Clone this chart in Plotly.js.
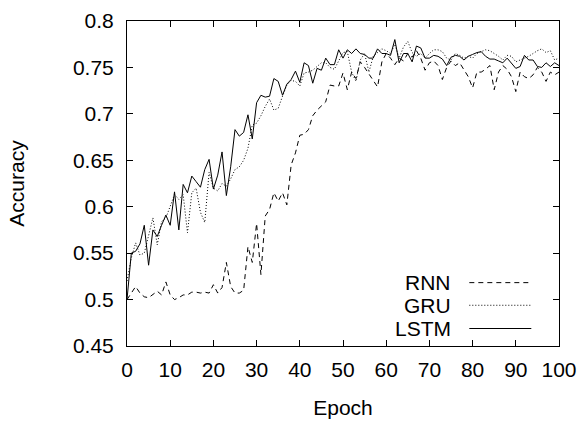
<!DOCTYPE html>
<html>
<head>
<meta charset="utf-8">
<script src="https://cdn.plot.ly/plotly-3.0.1.min.js"></script>
<style>html,body{margin:0;padding:0;background:#fff;}#chart{width:587px;height:422px;}</style>
</head>
<body>
<div id="chart"></div>
<script>
const epochs = Array.from({length: 101}, (_, i) => i);

const rnn = [0.500,0.507,0.514,0.507,0.503,0.502,0.506,0.509,0.505,0.519,
0.505,0.500,0.502,0.505,0.505,0.508,0.508,0.507,0.508,0.507,
0.516,0.507,0.513,0.540,0.514,0.507,0.507,0.510,0.557,0.540,
0.582,0.527,0.590,0.597,0.615,0.606,0.615,0.602,0.645,0.658,
0.677,0.678,0.683,0.698,0.704,0.708,0.713,0.731,0.730,0.730,
0.744,0.726,0.745,0.738,0.756,0.750,0.743,0.735,0.729,0.756,
0.765,0.760,0.753,0.760,0.757,0.765,0.761,0.768,0.760,0.747,
0.755,0.757,0.752,0.737,0.750,0.757,0.752,0.755,0.748,0.740,
0.728,0.745,0.745,0.748,0.752,0.726,0.745,0.752,0.748,0.740,
0.724,0.745,0.740,0.738,0.742,0.750,0.745,0.735,0.745,0.742,0.745];

const gru = [0.520,0.545,0.561,0.548,0.550,0.570,0.588,0.559,0.584,0.588,
0.600,0.613,0.608,0.613,0.572,0.615,0.620,0.594,0.583,0.637,
0.620,0.617,0.625,0.622,0.630,0.640,0.643,0.650,0.663,0.688,
0.690,0.698,0.708,0.716,0.704,0.706,0.719,0.731,0.736,0.735,
0.730,0.744,0.745,0.747,0.751,0.755,0.755,0.750,0.748,0.757,
0.766,0.767,0.745,0.735,0.758,0.765,0.745,0.762,0.766,0.770,
0.768,0.765,0.775,0.760,0.772,0.778,0.766,0.762,0.765,0.760,
0.765,0.769,0.769,0.767,0.760,0.758,0.765,0.763,0.760,0.762,
0.760,0.765,0.767,0.769,0.768,0.765,0.762,0.758,0.763,0.762,
0.756,0.758,0.760,0.762,0.765,0.768,0.770,0.766,0.768,0.758,0.760];

const lstm = [0.500,0.550,0.552,0.560,0.580,0.537,0.575,0.568,0.580,0.591,
0.580,0.616,0.575,0.624,0.615,0.633,0.627,0.621,0.640,0.651,
0.619,0.634,0.659,0.612,0.643,0.683,0.676,0.680,0.699,0.673,
0.712,0.720,0.718,0.719,0.738,0.735,0.720,0.732,0.737,0.746,
0.734,0.755,0.752,0.733,0.749,0.747,0.760,0.753,0.753,0.769,
0.760,0.769,0.765,0.770,0.765,0.764,0.760,0.760,0.770,0.765,
0.765,0.763,0.780,0.755,0.765,0.765,0.756,0.773,0.771,0.760,
0.760,0.763,0.762,0.759,0.752,0.761,0.763,0.762,0.758,0.762,
0.764,0.766,0.767,0.762,0.759,0.759,0.757,0.755,0.760,0.755,
0.749,0.751,0.763,0.758,0.758,0.751,0.750,0.755,0.751,0.755,0.752];

const seriesNames = ['RNN', 'GRU', 'LSTM'];
const xTickVals = [0,10,20,30,40,50,60,70,80,90,100];
const yTickVals = [0.45,0.5,0.55,0.6,0.65,0.7,0.75,0.8];
const yTickText = ['0.45','0.5','0.55','0.6','0.65','0.7','0.75','0.8'];

const dashes = ['5px,4px', '1px,2px', 'solid'];
const seriesData = [rnn, gru, lstm];

const traces = seriesData.map((ys, i) => ({
  x: epochs, y: ys, type: 'scatter', mode: 'lines', name: seriesNames[i],
  line: {color: '#000', width: 1, dash: dashes[i]}, showlegend: false
}));

const font = {family: 'Liberation Sans, Arial, Helvetica, sans-serif', size: 21, color: '#000'};

const legendY = [0.195, 0.1253, 0.0538];
const annotations = seriesNames.map((n, i) => ({
  xref: 'paper', yref: 'paper', x: 0.7554, y: legendY[i], text: n,
  showarrow: false, xanchor: 'right', yanchor: 'middle', font: font
}));
const shapes = seriesNames.map((n, i) => ({
  type: 'line', xref: 'paper', yref: 'paper', x0: 0.7924, x1: 0.9359,
  y0: legendY[i], y1: legendY[i], line: {color: '#000', width: 1, dash: dashes[i]}
}));

const layout = {
  width: 587, height: 422,
  margin: {l: 127, r: 28, t: 21, b: 76},
  paper_bgcolor: '#fff', plot_bgcolor: '#fff',
  font: font,
  showlegend: false,
  xaxis: {
    range: [0, 100], tickvals: xTickVals, ticks: 'inside', ticklen: 6, tickcolor: '#000',
    showline: true, linecolor: '#000', linewidth: 1, mirror: 'ticks', showgrid: false, zeroline: false,
    ticklabelstandoff: 5,
    title: {text: 'Epoch', font: font, standoff: 20}
  },
  yaxis: {
    range: [0.45, 0.8], tickvals: yTickVals, ticktext: yTickText, ticks: 'inside', ticklen: 6, tickcolor: '#000',
    showline: true, linecolor: '#000', linewidth: 1, mirror: 'ticks', showgrid: false, zeroline: false,
    ticklabelstandoff: 8,
    title: {text: 'Accuracy', font: font, standoff: 42}
  },
  annotations: annotations,
  shapes: shapes
};

Plotly.newPlot('chart', traces, layout, {displayModeBar: false, staticPlot: true});
</script>
</body>
</html>
